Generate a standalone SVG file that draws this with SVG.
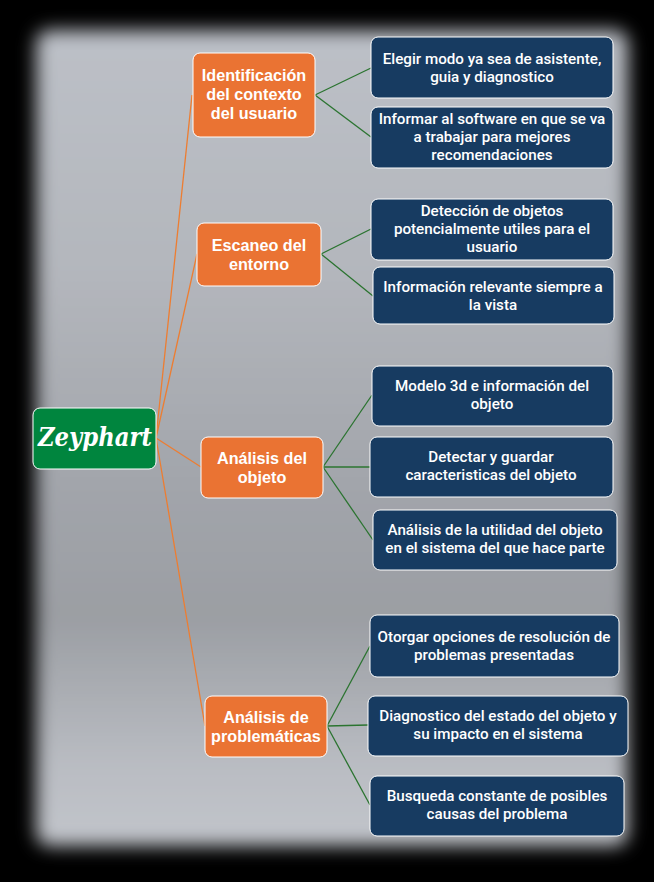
<svg xmlns="http://www.w3.org/2000/svg" width="654" height="882" viewBox="0 0 654 882">
<defs>
<linearGradient id="bg" x1="0" y1="0" x2="0" y2="1">
<stop offset="0" stop-color="#bcc0c7"/>
<stop offset="0.3" stop-color="#b3b6bc"/>
<stop offset="0.55" stop-color="#a2a5ab"/>
<stop offset="0.72" stop-color="#9b9ea3"/>
<stop offset="0.9" stop-color="#b9bcc2"/>
<stop offset="1" stop-color="#c2c5cb"/>
</linearGradient>
<filter id="blur" x="-10%" y="-10%" width="120%" height="120%">
<feGaussianBlur stdDeviation="9"/>
</filter>
<style>
.conn-o{stroke:#ED7D31;stroke-width:1.3;fill:none}
.conn-g{stroke:#2B7430;stroke-width:1.3;fill:none}
.orange{fill:#EA7333;stroke:#ffffff;stroke-width:1}
.blue{fill:#173B61;stroke:#ffffff;stroke-width:1}
.green{fill:#00853E;stroke:#ffffff;stroke-width:1}
.ot{font-family:"Liberation Sans",Arial,sans-serif;font-weight:bold;font-size:16.2px;fill:#ffffff;text-anchor:middle}
.bt{font-family:Roboto,"Liberation Sans",sans-serif;font-weight:500;font-size:15.2px;fill:#ffffff;text-anchor:middle}
.gt{font-family:"DejaVu Serif",serif;font-weight:bold;font-style:italic;font-size:26px;fill:#ffffff;text-anchor:middle}
</style>
</defs>
<rect x="0" y="0" width="654" height="882" fill="#000000"/>
<rect x="36" y="30" width="592" height="816" rx="14" fill="url(#bg)" filter="url(#blur)"/>

<g id="connectors">
<line class="conn-o" x1="156" y1="438" x2="192" y2="95"/>
<line class="conn-o" x1="156" y1="438" x2="197" y2="254"/>
<line class="conn-o" x1="156" y1="438" x2="201" y2="467"/>
<line class="conn-o" x1="156" y1="438" x2="205" y2="726"/>
<line class="conn-g" x1="315" y1="95" x2="371" y2="68"/>
<line class="conn-g" x1="315" y1="95" x2="371" y2="137"/>
<line class="conn-g" x1="321" y1="254" x2="371" y2="229"/>
<line class="conn-g" x1="321" y1="254" x2="373" y2="296"/>
<line class="conn-g" x1="323" y1="467" x2="372" y2="395"/>
<line class="conn-g" x1="323" y1="467" x2="370" y2="467"/>
<line class="conn-g" x1="323" y1="467" x2="373" y2="540"/>
<line class="conn-g" x1="327" y1="726" x2="370" y2="646"/>
<line class="conn-g" x1="327" y1="726" x2="368" y2="725"/>
<line class="conn-g" x1="327" y1="726" x2="370" y2="805"/>
</g>

<g id="root">
<rect class="green" x="33" y="408" width="123" height="61" rx="7"/>
<text class="gt" x="95" y="446" textLength="114" lengthAdjust="spacingAndGlyphs">Zeyphart</text>
</g>

<g id="n1">
<rect class="orange" x="193" y="53" width="122" height="84" rx="7"/>
<text class="ot" x="254" y="81">Identificación</text>
<text class="ot" x="254" y="100">del contexto</text>
<text class="ot" x="254" y="119">del usuario</text>
</g>
<g id="n2">
<rect class="orange" x="197" y="223" width="124" height="63" rx="7"/>
<text class="ot" x="259" y="250.5">Escaneo del</text>
<text class="ot" x="259" y="269.5">entorno</text>
</g>
<g id="n3">
<rect class="orange" x="201" y="437" width="122" height="61" rx="7"/>
<text class="ot" x="262" y="464">Análisis del</text>
<text class="ot" x="262" y="483">objeto</text>
</g>
<g id="n4">
<rect class="orange" x="205" y="696" width="122" height="61" rx="7"/>
<text class="ot" x="266" y="722.5">Análisis de</text>
<text class="ot" x="266" y="741.5">problemáticas</text>
</g>

<g id="b1">
<rect class="blue" x="371" y="37" width="242" height="61" rx="7"/>
<text class="bt" x="492" y="63.5">Elegir modo ya sea de asistente,</text>
<text class="bt" x="492" y="81.5">guia y diagnostico</text>
</g>
<g id="b2">
<rect class="blue" x="371" y="107" width="242" height="61" rx="7"/>
<text class="bt" x="492" y="123.5">Informar al software en que se va</text>
<text class="bt" x="492" y="141.5">a trabajar para mejores</text>
<text class="bt" x="492" y="159.5">recomendaciones</text>
</g>
<g id="b3">
<rect class="blue" x="371" y="199" width="242" height="61" rx="7"/>
<text class="bt" x="492" y="216">Detección de objetos</text>
<text class="bt" x="492" y="234">potencialmente utiles para el</text>
<text class="bt" x="492" y="252">usuario</text>
</g>
<g id="b4">
<rect class="blue" x="373" y="267" width="241" height="57" rx="7"/>
<text class="bt" x="493" y="291.5">Información relevante siempre a</text>
<text class="bt" x="493" y="309.5">la vista</text>
</g>
<g id="b5">
<rect class="blue" x="372" y="366" width="241" height="60" rx="7"/>
<text class="bt" x="492" y="391">Modelo 3d e información del</text>
<text class="bt" x="492" y="409">objeto</text>
</g>
<g id="b6">
<rect class="blue" x="370" y="437" width="243" height="60" rx="7"/>
<text class="bt" x="491" y="462">Detectar y guardar</text>
<text class="bt" x="491" y="480">caracteristicas del objeto</text>
</g>
<g id="b7">
<rect class="blue" x="373" y="510" width="244" height="60" rx="7"/>
<text class="bt" x="495" y="535">Análisis de la utilidad del objeto</text>
<text class="bt" x="495" y="553">en el sistema del que hace parte</text>
</g>
<g id="b8">
<rect class="blue" x="370" y="615" width="249" height="62" rx="7"/>
<text class="bt" x="494" y="642">Otorgar opciones de resolución de</text>
<text class="bt" x="494" y="660">problemas presentadas</text>
</g>
<g id="b9">
<rect class="blue" x="368" y="696" width="260" height="60" rx="7"/>
<text class="bt" x="498" y="721">Diagnostico del estado del objeto y</text>
<text class="bt" x="498" y="739">su impacto en el sistema</text>
</g>
<g id="b10">
<rect class="blue" x="370" y="776" width="254" height="60" rx="7"/>
<text class="bt" x="497" y="800.5">Busqueda constante de posibles</text>
<text class="bt" x="497" y="818.5">causas del problema</text>
</g>
</svg>
